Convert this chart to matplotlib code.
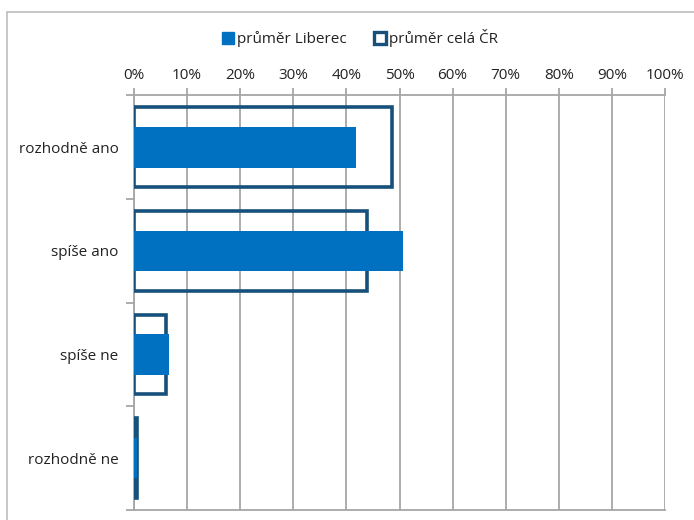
import matplotlib
matplotlib.use("Agg")
import matplotlib.pyplot as plt
from matplotlib.patches import Rectangle
from matplotlib.ticker import FixedLocator, PercentFormatter
from matplotlib.lines import Line2D

categories = ["rozhodně ano", "spíše ano", "spíše ne", "rozhodně ne"]
liberec = [41.8, 50.6, 6.6, 0.6]
cr = [48.6, 43.8, 6.0, 0.6]
xticks = [0, 10, 20, 30, 40, 50, 60, 70, 80, 90, 100]
series_names = ["průměr Liberec", "průměr celá ČR"]

plt.rcParams['font.family'] = ['Open Sans', 'DejaVu Sans']

W, H = 694, 520
fig = plt.figure(figsize=(W / 100, H / 100), dpi=100)
ax = fig.add_axes([134 / W, 1 - 510 / H, (665 - 134) / W, (510 - 95.5) / H])

fill_c = "#0070C0"
edge_c = "#17507A"
grid_c = "#A6A6A6"

pos = list(range(len(categories)))
ax.barh(pos, cr, height=0.77, facecolor="none", edgecolor=edge_c, linewidth=2.6, zorder=3)
ax.barh(pos, liberec, height=0.39, color=fill_c, zorder=4)

ax.set_xlim(0, 100)
ax.set_ylim(len(categories) - 0.5, -0.5)
ax.xaxis.set_major_locator(FixedLocator(xticks))
ax.xaxis.set_major_formatter(PercentFormatter(decimals=0))
ax.xaxis.tick_top()
ax.tick_params(axis='x', which='major', direction='out', length=5, width=1.3, color=grid_c,
               labelsize=11, pad=4, labelcolor="#222222")
ax.grid(axis='x', color=grid_c, linewidth=1.3, zorder=0)

ax.set_yticks(pos)
ax.set_yticklabels(categories)
ax.yaxis.set_minor_locator(FixedLocator([k - 0.5 for k in range(len(categories) + 1)]))
ax.tick_params(axis='y', which='major', length=0, labelsize=11, pad=11, labelcolor="#222222")
ax.tick_params(axis='y', which='minor', length=6, width=1.3, color=grid_c)

for s in ['top', 'bottom', 'left']:
    ax.spines[s].set_color(grid_c)
    ax.spines[s].set_linewidth(1.3)
ax.spines['right'].set_visible(False)

handles = [
    Line2D([], [], marker='s', linestyle='none', markersize=8.5, markerfacecolor=fill_c, markeredgecolor=fill_c),
    Line2D([], [], marker='s', linestyle='none', markersize=8.5, markerfacecolor='white',
           markeredgecolor=edge_c, markeredgewidth=2.4),
]
fig.legend(handles, series_names, loc='center', bbox_to_anchor=(360 / W, 1 - 38 / H), ncol=2,
           frameon=False, fontsize=11, handletextpad=0.15, columnspacing=1.8, handlelength=0.8,
           labelcolor="#222222")

fig.patches.append(Rectangle((7 / W, -0.1), 1.2, 1 - 12 / H + 0.1, transform=fig.transFigure,
                             fill=False, edgecolor="#BDBDBD", linewidth=1.2))

fig.savefig("out.png", dpi=100)
